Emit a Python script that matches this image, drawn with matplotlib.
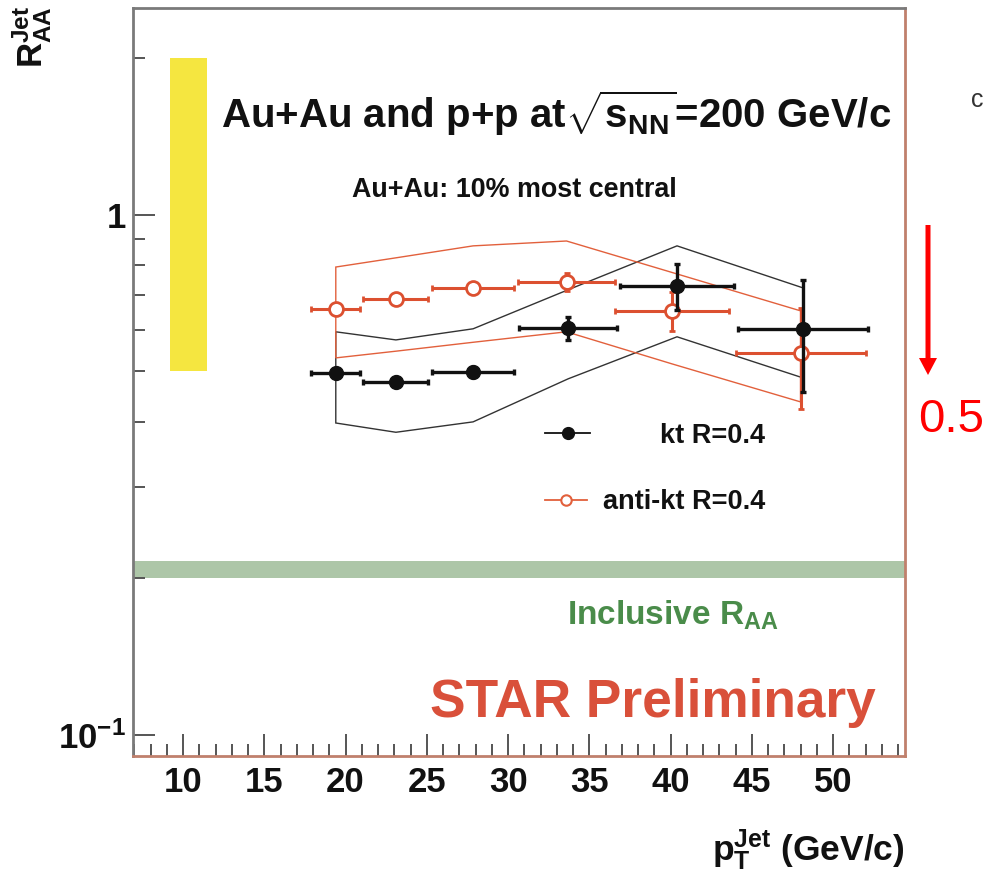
import matplotlib
matplotlib.use("Agg")
import matplotlib.pyplot as plt
from matplotlib.ticker import FixedLocator, MultipleLocator, NullFormatter
from matplotlib.patches import FancyArrow
from matplotlib.transforms import IdentityTransform

plt.rcParams['font.family'] = ['Liberation Sans', 'DejaVu Sans']
plt.rcParams['font.weight'] = 'bold'
plt.rcParams['mathtext.fontset'] = 'custom'
plt.rcParams['mathtext.rm'] = 'Liberation Sans:bold'
plt.rcParams['mathtext.it'] = 'Liberation Sans:bold'
plt.rcParams['mathtext.bf'] = 'Liberation Sans:bold'
plt.rcParams['mathtext.sf'] = 'Liberation Sans:bold'

# ---- measured jet R_AA, kt algorithm (R=0.4) ----
pt_kt = [19.4, 23.1, 27.85, 33.7, 40.4, 48.15]
raa_kt = [0.497, 0.477, 0.499, 0.606, 0.730, 0.604]
xerr_kt = [1.5, 2.0, 2.5, 3.0, 3.5, 4.0]
yerr_kt = [0.008, 0.008, 0.012, 0.03, 0.075, 0.147]
sys_hi_kt = [0.596, 0.575, 0.604, 0.718, 0.872, 0.724]
sys_lo_kt = [0.398, 0.382, 0.400, 0.484, 0.583, 0.486]

# ---- measured jet R_AA, anti-kt algorithm (R=0.4) ----
pt_akt = [19.4, 23.1, 27.85, 33.6, 40.1, 48.0]
raa_akt = [0.659, 0.690, 0.724, 0.743, 0.654, 0.543]
xerr_akt = [1.5, 2.0, 2.5, 3.0, 3.5, 4.0]
yerr_akt = [0.005, 0.005, 0.008, 0.03, 0.056, 0.12]
sys_hi_akt = [0.794, 0.827, 0.872, 0.891, 0.775, 0.654]
sys_lo_akt = [0.531, 0.547, 0.569, 0.596, 0.517, 0.437]

# normalisation uncertainty box and inclusive hadron R_AA band
norm_x = [9.2, 11.5]
norm_lo, norm_hi = 0.5, 2.0
incl_lo, incl_hi = 0.200, 0.216

y_ticks = [0.1, 1.0]
y_tick_labels = [r'$10^{-1}$', '1']

BLACK = '#111111'
RED = '#dc5030'
BAND_RED = '#e2603c'

fig = plt.figure(figsize=(9.85, 8.74), dpi=100)
ax = fig.add_axes([133/985, (874-756)/874, (905-133)/985, (756-8)/874])
ax.set_yscale('log')
ax.set_xlim(6.92, 54.43)
ax.set_ylim(0.0911, 2.50)

# bands
ax.fill_between(norm_x, [norm_lo]*2, [norm_hi]*2, color='#f5e640', lw=0, zorder=1)
ax.axhspan(incl_lo, incl_hi, color='#adc6a8', lw=0, zorder=1)

# systematic envelopes
ax.fill(pt_kt + pt_kt[::-1], sys_hi_kt + sys_lo_kt[::-1], fill=False,
        edgecolor='#333333', lw=1.0, zorder=2)
ax.fill(pt_akt + pt_akt[::-1], sys_hi_akt + sys_lo_akt[::-1], fill=False,
        edgecolor=BAND_RED, lw=1.0, zorder=2)

# data points
ax.errorbar(pt_akt, raa_akt, xerr=xerr_akt, yerr=yerr_akt, fmt='o', color=RED,
            mfc='white', mec=RED, mew=2.0, ms=10, elinewidth=2.2, capsize=2.5,
            capthick=2.2, zorder=4)
ax.errorbar(pt_kt, raa_kt, xerr=xerr_kt, yerr=yerr_kt, fmt='o', color=BLACK,
            mfc=BLACK, mec=BLACK, ms=10, elinewidth=2.4, capsize=2.5,
            capthick=2.4, zorder=5)

# ticks
ax.yaxis.set_major_locator(FixedLocator(y_ticks))
ax.set_yticklabels(y_tick_labels)
ax.yaxis.set_minor_locator(FixedLocator([0.2, 0.3, 0.4, 0.5, 0.6, 0.7, 0.8, 0.9, 2.0]))
ax.yaxis.set_minor_formatter(NullFormatter())
ax.xaxis.set_major_locator(MultipleLocator(5))
ax.xaxis.set_minor_locator(MultipleLocator(1))
ax.tick_params(which='both', direction='in', top=False, right=False, color='#555555', width=1.4)
ax.tick_params(which='major', length=16)
ax.tick_params(which='minor', length=8.5)
ax.tick_params(axis='x', which='major', labelsize=25, pad=7)
ax.tick_params(axis='y', which='major', labelsize=25, pad=5)
for lab in ax.get_xticklabels() + ax.get_yticklabels():
    lab.set_fontweight('bold')
    lab.set_color('#111111')

for side in ['left', 'top']:
    ax.spines[side].set_color('#7a7a7a')
    ax.spines[side].set_linewidth(2)
for side in ['right', 'bottom']:
    ax.spines[side].set_color('#c0806c')
    ax.spines[side].set_linewidth(2)

# annotations inside the frame
ax.text(0.548, 0.8396, r'Au+Au and p+p at$\sqrt{\mathrm{s_{NN}}}$=200 GeV/c',
        transform=ax.transAxes, ha='center', va='baseline', fontsize=29,
        color='#111111')
ax.text(0.4935, 0.747, 'Au+Au: 10% most central', transform=ax.transAxes,
        ha='center', va='baseline', fontsize=19.4, color='#111111')

# legend
ax.plot([0.534, 0.592], [0.432, 0.432], transform=ax.transAxes, color=BLACK, lw=1.3, zorder=6)
ax.plot([0.563], [0.432], 'o', transform=ax.transAxes, color=BLACK, ms=8.5, zorder=6)
ax.text(0.819, 0.418, 'kt R=0.4', transform=ax.transAxes, ha='right', va='baseline',
        fontsize=19.5, color='#111111')
ax.plot([0.534, 0.588], [0.342, 0.342], transform=ax.transAxes, color=BAND_RED, lw=1.3, zorder=6)
ax.plot([0.561], [0.342], 'o', transform=ax.transAxes, mfc='white', mec=BAND_RED,
        mew=1.5, ms=7.5, zorder=6)
ax.text(0.819, 0.330, 'anti-kt R=0.4', transform=ax.transAxes, ha='right', va='baseline',
        fontsize=19.5, color='#111111')

ax.text(0.562, 0.175, r'Inclusive R$_{\mathrm{AA}}$', transform=ax.transAxes,
        ha='left', va='baseline', fontsize=24, color='#4a8c4a')
ax.text(0.385, 0.052, 'STAR Preliminary', transform=ax.transAxes, ha='left',
        va='baseline', fontsize=38.3, color='#d9503a')

# axis titles
fig.text(32/985, 1 - 6/874, r'R$^{\mathrm{Jet}}_{\mathrm{AA}}$', rotation=90,
         ha='center', va='top', fontsize=25, color='#111111')
fig.text(905/985, 1 - 860/874, r'p$^{\mathrm{Jet}}_{\mathrm{T}}$ (GeV/c)',
         ha='right', va='baseline', fontsize=25.5, color='#111111')

# marker outside the frame
arrow = FancyArrow(928, 874 - 225, 0, -150, width=5, head_width=18, head_length=17,
                   length_includes_head=True, color='#ff0000', lw=0,
                   transform=IdentityTransform())
fig.add_artist(arrow)
fig.text(918/985, 1 - 432/874, '0.5', color='#ff0000', fontsize=34,
         fontweight='normal', ha='left', va='baseline')
fig.text(983/985, 1 - 107/874, 'c', color='#333333', fontsize=18,
         fontweight='normal', ha='right', va='baseline')

fig.savefig('out.png', dpi=100)
